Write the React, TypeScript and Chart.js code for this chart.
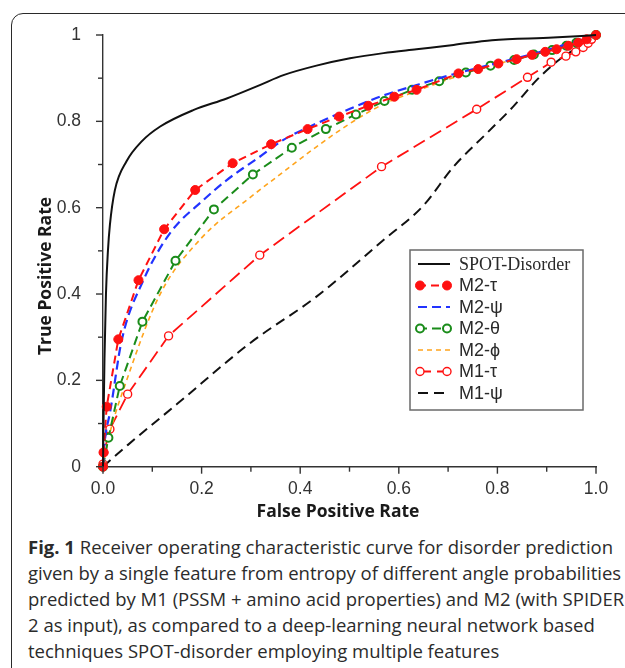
import React, { useEffect, useRef } from 'react';
import { Chart, registerables } from 'chart.js';

Chart.register(...registerables);

// ---- data ----
const spotFPR = [0, 0.001, 0.003, 0.006, 0.010, 0.014, 0.024, 0.048, 0.078, 0.116, 0.183, 0.251, 0.318, 0.366, 0.433, 0.501, 0.569, 0.636, 0.711, 0.789, 0.913, 1.0];
const spotTPR = [0, 0.10, 0.25, 0.40, 0.50, 0.56, 0.640, 0.708, 0.753, 0.788, 0.826, 0.853, 0.884, 0.907, 0.929, 0.946, 0.958, 0.967, 0.977, 0.988, 0.994, 1.0];

const m2TauFPR = [0, 0.001, 0.0075, 0.031, 0.072, 0.124, 0.187, 0.263, 0.341, 0.415, 0.479, 0.538, 0.591, 0.636, 0.721, 0.761, 0.802, 0.839, 0.870, 0.897, 0.920, 0.944, 0.964, 0.981, 1.0];
const m2TauTPR = [0, 0.033, 0.139, 0.295, 0.432, 0.550, 0.641, 0.703, 0.747, 0.782, 0.811, 0.836, 0.857, 0.873, 0.911, 0.921, 0.934, 0.944, 0.954, 0.961, 0.967, 0.975, 0.982, 0.990, 1.0];

const m2PsiFPR = [0, 0.002, 0.006, 0.014, 0.038, 0.082, 0.136, 0.204, 0.251, 0.318, 0.366, 0.433, 0.501, 0.569, 0.636, 0.704, 0.800, 0.900, 1.0];
const m2PsiTPR = [0, 0.040, 0.080, 0.124, 0.293, 0.432, 0.541, 0.618, 0.664, 0.718, 0.757, 0.795, 0.829, 0.860, 0.884, 0.907, 0.935, 0.965, 1.0];

const m2ThetaFPR = [0, 0.011, 0.034, 0.080, 0.147, 0.225, 0.304, 0.383, 0.452, 0.513, 0.571, 0.627, 0.682, 0.736, 0.786, 0.834, 0.874, 0.911, 0.940, 0.960, 1.0];
const m2ThetaTPR = [0, 0.067, 0.187, 0.336, 0.477, 0.596, 0.677, 0.739, 0.782, 0.816, 0.847, 0.873, 0.893, 0.913, 0.929, 0.942, 0.955, 0.965, 0.975, 0.982, 1.0];

const m2PhiFPR = [0, 0.005, 0.010, 0.048, 0.116, 0.200, 0.300, 0.366, 0.433, 0.501, 0.569, 0.636, 0.720, 0.800, 0.900, 1.0];
const m2PhiTPR = [0, 0.030, 0.060, 0.200, 0.400, 0.530, 0.625, 0.683, 0.741, 0.795, 0.840, 0.870, 0.905, 0.933, 0.963, 1.0];

const m1TauFPR = [0, 0.002, 0.014, 0.050, 0.133, 0.318, 0.565, 0.758, 0.861, 0.909, 0.939, 0.959, 0.974, 0.984, 0.991, 1.0];
const m1TauTPR = [0.006, 0.033, 0.087, 0.168, 0.303, 0.490, 0.695, 0.828, 0.902, 0.937, 0.951, 0.961, 0.971, 0.981, 0.990, 1.0];

const m1PsiFPR = [0, 0.050, 0.150, 0.298, 0.433, 0.569, 0.650, 0.711, 0.778, 0.832, 0.880, 0.920, 0.954, 1.0];
const m1PsiTPR = [0, 0.050, 0.145, 0.286, 0.394, 0.525, 0.605, 0.695, 0.772, 0.834, 0.896, 0.938, 0.965, 1.0];

const seriesNames = ['SPOT-Disorder', 'M2-τ', 'M2-ψ', 'M2-θ', 'M2-ϕ', 'M1-τ', 'M1-ψ'];
const xTickValues = [0, 0.1, 0.2, 0.3, 0.4, 0.5, 0.6, 0.7, 0.8, 0.9, 1.0];
const xTickLabels = ['0.0', '', '0.2', '', '0.4', '', '0.6', '', '0.8', '', '1.0'];
const yTickLabels = ['0', '', '0.2', '', '0.4', '', '0.6', '', '0.8', '', '1'];

const captionLines = [
  'Receiver operating characteristic curve for disorder prediction',
  'given by a single feature from entropy of different angle probabilities',
  'predicted by M1 (PSSM + amino acid properties) and M2 (with SPIDER',
  '2 as input), as compared to a deep-learning neural network based',
  'techniques SPOT-disorder employing multiple features',
];

const pts = (xs: number[], ys: number[]) => xs.map((x, i) => ({ x, y: ys[i] }));

const RED = '#ff1111';
const BLUE = '#2233ff';
const GREEN = '#1a8c1a';
const ORANGE = '#ffa41c';

const datasets: any[] = [
  { label: seriesNames[0], data: pts(spotFPR, spotTPR), borderColor: '#111', borderWidth: 2, pointRadius: 0, cubicInterpolationMode: 'monotone', legendMarker: 'none' },
  { label: seriesNames[1], data: pts(m2TauFPR, m2TauTPR), borderColor: RED, borderWidth: 2, borderDash: [8, 5], pointRadius: 4.5, pointBackgroundColor: RED, pointBorderColor: RED, pointBorderWidth: 1, legendMarker: 'filled' },
  { label: seriesNames[2], data: pts(m2PsiFPR, m2PsiTPR), borderColor: BLUE, borderWidth: 2.2, borderDash: [9, 5], pointRadius: 0, cubicInterpolationMode: 'monotone', legendMarker: 'none' },
  { label: seriesNames[3], data: pts(m2ThetaFPR, m2ThetaTPR), borderColor: GREEN, borderWidth: 2, borderDash: [9, 5], pointRadius: 4, pointBackgroundColor: '#fff', pointBorderColor: GREEN, pointBorderWidth: 2, legendMarker: 'open' },
  { label: seriesNames[4], data: pts(m2PhiFPR, m2PhiTPR), borderColor: ORANGE, borderWidth: 1.6, borderDash: [5, 4], pointRadius: 0, cubicInterpolationMode: 'monotone', legendMarker: 'none' },
  { label: seriesNames[5], data: pts(m1TauFPR, m1TauTPR), borderColor: RED, borderWidth: 1.8, borderDash: [13, 6], pointRadius: 4, pointBackgroundColor: '#fff', pointBorderColor: RED, pointBorderWidth: 1.4, legendMarker: 'open' },
  { label: seriesNames[6], data: pts(m1PsiFPR, m1PsiTPR), borderColor: '#111', borderWidth: 2, borderDash: [10, 6], pointRadius: 0, cubicInterpolationMode: 'monotone', legendMarker: 'none' },
].map((d) => ({ ...d, fill: false, tension: 0, clip: false, pointHoverRadius: 0 }));

const fmtTick = (labels: string[]) => (v: any) => {
  const i = Math.round(Number(v) * 10);
  return labels[i] ?? '';
};

const decorPlugin = {
  id: 'decor',
  afterDraw(chart: any) {
    const ctx = chart.ctx as CanvasRenderingContext2D;
    const xs = chart.scales.x;
    const ys = chart.scales.y;
    const { left, bottom } = chart.chartArea;
    ctx.save();
    // ticks (outward, minor shorter)
    ctx.strokeStyle = '#333';
    ctx.lineWidth = 1.4;
    ctx.setLineDash([]);
    xTickValues.forEach((v, i) => {
      const len = i % 2 === 0 ? 7 : 5;
      const px = xs.getPixelForValue(v);
      ctx.beginPath(); ctx.moveTo(px, bottom); ctx.lineTo(px, bottom + len); ctx.stroke();
      const py = ys.getPixelForValue(v);
      ctx.beginPath(); ctx.moveTo(left, py); ctx.lineTo(left - len, py); ctx.stroke();
    });
    // axis titles
    ctx.fillStyle = '#1a1a1a';
    ctx.font = 'bold 17.5px "Open Sans"';
    ctx.textAlign = 'center';
    ctx.textBaseline = 'middle';
    ctx.fillText('False Positive Rate', 338, 512);
    ctx.save();
    ctx.translate(46, 276);
    ctx.rotate(-Math.PI / 2);
    ctx.fillText('True Positive Rate', 0, 0);
    ctx.restore();

    // legend box
    const bx = 410, by = 250, bw = 173, bh = 160;
    ctx.fillStyle = '#fff';
    ctx.fillRect(bx, by, bw, bh);
    ctx.strokeStyle = '#6a6a6a';
    ctx.lineWidth = 1.5;
    ctx.strokeRect(bx, by, bw, bh);
    const rowY0 = 264, rowStep = 21.5;
    chart.data.datasets.forEach((ds: any, i: number) => {
      const y = rowY0 + i * rowStep;
      const x0 = 418, x1 = 450;
      ctx.save();
      ctx.strokeStyle = ds.borderColor;
      ctx.lineWidth = ds.borderWidth;
      ctx.setLineDash(ds.borderDash || []);
      ctx.beginPath(); ctx.moveTo(x0, y); ctx.lineTo(x1, y); ctx.stroke();
      ctx.setLineDash([]);
      if (ds.legendMarker !== 'none') {
        [x0 + 2, x1 - 3].forEach((mx) => {
          ctx.beginPath();
          ctx.arc(mx, y, ds.pointRadius, 0, Math.PI * 2);
          ctx.fillStyle = ds.pointBackgroundColor;
          ctx.fill();
          ctx.lineWidth = ds.pointBorderWidth;
          ctx.strokeStyle = ds.pointBorderColor;
          ctx.stroke();
        });
      }
      ctx.restore();
      ctx.fillStyle = '#2a2a2a';
      ctx.textAlign = 'left';
      ctx.textBaseline = 'middle';
      ctx.font = i === 0 ? '18px "Liberation Serif"' : '18px "Liberation Sans"';
      ctx.fillText(ds.label, 459, y + 1);
    });
    ctx.restore();
  },
};

export default function App() {
  const ref = useRef<HTMLCanvasElement | null>(null);
  useEffect(() => {
    if (!ref.current) return;
    const chart = new Chart(ref.current, {
      type: 'line',
      data: { datasets },
      options: {
        animation: false,
        responsive: false,
        devicePixelRatio: 1,
        layout: { padding: { top: 35, right: 29, left: 0, bottom: 0 } },
        plugins: { legend: { display: false }, tooltip: { enabled: false } },
        scales: {
          x: {
            type: 'linear', min: 0, max: 1,
            grid: { display: false },
            border: { display: true, color: '#333', width: 1.4 },
            ticks: { stepSize: 0.1, autoSkip: false, maxRotation: 0, padding: 4, color: '#333', font: { family: 'Liberation Sans', size: 17.5 }, callback: fmtTick(xTickLabels) },
            afterFit: (s: any) => { s.height = 530 - 466.7; },
          },
          y: {
            type: 'linear', min: 0, max: 1,
            grid: { display: false },
            border: { display: true, color: '#333', width: 1.4 },
            ticks: { stepSize: 0.1, autoSkip: false, padding: 14, color: '#333', font: { family: 'Liberation Sans', size: 17.5 }, callback: fmtTick(yTickLabels) },
            afterFit: (s: any) => { s.width = 103; },
          },
        },
      } as any,
      plugins: [decorPlugin],
    });
    return () => chart.destroy();
  }, []);

  return (
    <div style={{ position: 'absolute', left: 0, top: 0, width: 625, height: 668, overflow: 'hidden', background: '#fff' }}>
      <div style={{ position: 'absolute', left: 11, top: 13, width: 700, height: 700, border: '1.6px solid #2a2a2a', borderRadius: 12, boxSizing: 'border-box' }} />
      <canvas ref={ref} width={625} height={530} style={{ position: 'absolute', left: 0, top: 0, display: 'block' }} />
      <div style={{ position: 'absolute', left: 28, top: 534, fontFamily: '"Open Sans", sans-serif', fontSize: 18.5, lineHeight: '26px', color: '#2b2b2b', whiteSpace: 'nowrap' }}>
        {captionLines.map((line, i) => (
          <div key={i}>
            {i === 0 ? <b>Fig. 1 </b> : null}
            {line}
          </div>
        ))}
      </div>
    </div>
  );
}
